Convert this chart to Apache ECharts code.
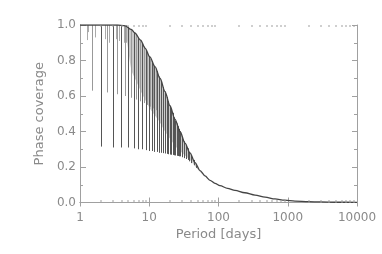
<!DOCTYPE html>
<html>
<head>
<meta charset="utf-8">
<script src="https://cdn.jsdelivr.net/npm/echarts@6/dist/echarts.min.js"></script>
<style>
  html, body { margin: 0; padding: 0; background: #fff; }
  #chart { width: 382px; height: 254px; }
</style>
</head>
<body>
<div id="chart"></div>
<script>
// upper envelope of the phase coverage curve
const envPeriods = [1, 3.5, 4.5, 5.5, 6.2, 7.5, 8.7, 10.2, 12.1, 14.3, 16.9, 19.9, 23.5, 27.8, 32.8, 38.7, 45.8, 54.1, 63.8, 75.4, 89, 105, 135, 173, 240, 337, 470, 655, 900, 1273, 2000, 2922, 5000, 10000]
const envValues = [1.0, 1.0, 0.995, 0.975, 0.955, 0.915, 0.87, 0.82, 0.765, 0.70, 0.625, 0.545, 0.47, 0.40, 0.335, 0.28, 0.225, 0.18, 0.15, 0.125, 0.108, 0.095, 0.08, 0.068, 0.055, 0.042, 0.03, 0.02, 0.013, 0.008, 0.005, 0.003, 0.0015, 0.001]

// lower edge of the grey dense band (same periods as the envelope)
const bandPeriods = [4.5, 5.5, 6.2, 7.5, 8.7, 10.2, 12.1, 14.3, 16.9, 19.9, 23.5, 27.8, 32.8, 38.7, 45.8, 54.1, 63.8]
const bandLows = [0.99, 0.75, 0.70, 0.63, 0.58, 0.53, 0.49, 0.45, 0.40, 0.36, 0.32, 0.29, 0.265, 0.24, 0.205, 0.172, 0.15]

// dips at integer periods
const dipPeriods = [2, 3, 4, 5, 6, 7, 8, 9, 10, 11, 12, 13, 14, 15, 16, 17, 18, 19, 20, 21, 22, 23, 24, 25, 26, 27, 28, 30, 32, 34, 36, 38, 41, 44, 48]
const dipTops = [1.0, 1.0, 1.0, 0.99, 0.96, 0.93, 0.895, 0.86, 0.825, 0.795, 0.77, 0.74, 0.71, 0.68, 0.65, 0.625, 0.595, 0.57, 0.545, 0.525, 0.505, 0.48, 0.46, 0.445, 0.43, 0.415, 0.40, 0.37, 0.345, 0.325, 0.305, 0.285, 0.265, 0.24, 0.21]
const dipLows = [0.315, 0.31, 0.31, 0.31, 0.305, 0.30, 0.30, 0.295, 0.29, 0.29, 0.285, 0.285, 0.28, 0.28, 0.278, 0.276, 0.274, 0.272, 0.27, 0.269, 0.268, 0.266, 0.265, 0.263, 0.262, 0.26, 0.26, 0.255, 0.25, 0.245, 0.24, 0.232, 0.222, 0.21, 0.195]

// dips at half-integer periods
const halfPeriods = [1.5, 2.5, 3.5, 4.5, 5.5, 6.5, 7.5, 8.5, 9.5, 10.5, 11.5, 12.5]
const halfTops = [1.0, 1.0, 1.0, 0.995, 0.975, 0.945, 0.915, 0.88, 0.84, 0.81, 0.78, 0.755]
const halfLows = [0.63, 0.62, 0.61, 0.60, 0.59, 0.58, 0.57, 0.56, 0.55, 0.54, 0.53, 0.52]

// small dips at third periods
const thirdPeriods = [1.26, 1.33, 1.67, 2.33, 2.67, 3.33, 3.67, 4.33, 4.67]
const thirdLows = [0.915, 0.96, 0.93, 0.92, 0.90, 0.92, 0.91, 0.90, 0.90]

const xMinorMults = [2, 3, 4, 5, 6, 7, 8, 9]
const xDecades = [1, 10, 100, 1000]

const font = 'DejaVu Sans'
const axisColor = '#a0a0a0'
const textColor = '#8a8a8a'

const minorTicks = []
xDecades.forEach((d) => xMinorMults.forEach((m) => minorTicks.push([m * d, 0.5])))

const envData = envPeriods.map((p, i) => [p, envValues[i]])
const bandTops = bandPeriods.map((p) => envValues[envPeriods.indexOf(p)])

const dipLines = (periods, tops, lows) =>
  periods.map((p, i) => ({ coords: [[p, tops ? tops[i] : 1.0], [p, lows[i]]] }))

const chart = echarts.init(document.getElementById('chart'), null, { renderer: 'canvas' })

chart.setOption({
  animation: false,
  grid: { left: 80, right: 25, top: 25, bottom: 51.5 },
  xAxis: [
    {
      type: 'log',
      logBase: 10,
      min: 1,
      max: 10000,
      position: 'bottom',
      name: 'Period [days]',
      nameLocation: 'middle',
      nameGap: 18,
      nameTextStyle: { color: textColor, fontFamily: font, fontSize: 13 },
      axisLine: { show: true, lineStyle: { color: axisColor, width: 1 } },
      axisTick: { show: true, inside: true, length: 5, lineStyle: { color: axisColor } },
      axisLabel: {
        color: textColor,
        fontFamily: font,
        fontSize: 12,
        margin: 9,
        formatter(v) {
          return String(Math.round(v))
        }
      },
      splitLine: { show: false }
    },
    {
      type: 'log',
      logBase: 10,
      min: 1,
      max: 10000,
      position: 'top',
      axisLine: { show: true, lineStyle: { color: axisColor, width: 1 } },
      axisTick: { show: true, inside: true, length: 4, lineStyle: { color: axisColor } },
      axisLabel: { show: false },
      splitLine: { show: false }
    }
  ],
  yAxis: [
    {
      type: 'value',
      min: 0,
      max: 1,
      interval: 0.2,
      position: 'left',
      name: 'Phase coverage',
      nameLocation: 'middle',
      nameGap: 33,
      nameTextStyle: { color: textColor, fontFamily: font, fontSize: 13 },
      axisLine: { show: true, lineStyle: { color: axisColor, width: 1 } },
      axisTick: { show: true, inside: true, length: 6, lineStyle: { color: axisColor } },
      minorTick: { show: true, splitNumber: 2, length: 3, lineStyle: { color: axisColor } },
      axisLabel: {
        color: textColor,
        fontFamily: font,
        fontSize: 12,
        margin: 4,
        formatter(v) {
          return v.toFixed(1)
        }
      },
      splitLine: { show: false }
    },
    {
      type: 'value',
      min: 0,
      max: 1,
      interval: 0.2,
      position: 'right',
      axisLine: { show: true, lineStyle: { color: axisColor, width: 1 } },
      axisTick: { show: true, inside: true, length: 5, lineStyle: { color: axisColor } },
      minorTick: { show: true, splitNumber: 2, length: 3, lineStyle: { color: axisColor } },
      axisLabel: { show: false },
      splitLine: { show: false }
    }
  ],
  series: [
    {
      // grey band between the envelope and the band's lower edge
      type: 'custom',
      data: [[bandPeriods[0], bandLows[0]]],
      silent: true,
      encode: { x: 0, y: 1 },
      renderItem(params, api) {
        const pts = []
        bandPeriods.forEach((p, i) => pts.push(api.coord([p, bandTops[i]])))
        for (let i = bandPeriods.length - 1; i >= 0; i--) {
          pts.push(api.coord([bandPeriods[i], bandLows[i]]))
        }
        return {
          type: 'polygon',
          shape: { points: pts, smooth: 0.3 },
          style: { fill: '#cacaca' }
        }
      },
      z: 2
    },
    {
      type: 'lines',
      coordinateSystem: 'cartesian2d',
      data: dipLines(thirdPeriods, null, thirdLows),
      lineStyle: { color: '#aaaaaa', width: 1, opacity: 1 },
      silent: true,
      z: 3
    },
    {
      type: 'lines',
      coordinateSystem: 'cartesian2d',
      data: dipLines(halfPeriods, halfTops, halfLows),
      lineStyle: { color: '#999999', width: 1, opacity: 1 },
      silent: true,
      z: 3
    },
    {
      type: 'lines',
      coordinateSystem: 'cartesian2d',
      data: dipLines(dipPeriods, dipTops, dipLows),
      lineStyle: { color: '#555555', width: 1, opacity: 1 },
      silent: true,
      z: 4
    },
    {
      type: 'line',
      data: envData,
      symbol: 'none',
      smooth: 0.3,
      smoothMonotone: 'x',
      silent: true,
      lineStyle: { color: '#444444', width: 1.3 },
      z: 5
    },
    {
      // log minor ticks (2..9 in each decade), bottom and top
      type: 'custom',
      data: minorTicks,
      silent: true,
      clip: false,
      encode: { x: 0, y: 1 },
      renderItem(params, api) {
        const x = Math.round(api.coord([api.value(0), 0.5])[0]) - 0.5
        const top = Math.round(params.coordSys.y)
        const bottom = Math.round(params.coordSys.y + params.coordSys.height)
        return {
          type: 'group',
          children: [
            {
              type: 'rect',
              shape: { x: x, y: bottom - 3, width: 1, height: 3 },
              style: { fill: axisColor }
            },
            {
              type: 'rect',
              shape: { x: x, y: top, width: 1, height: 2 },
              style: { fill: axisColor }
            }
          ]
        }
      },
      z: 6
    }
  ]
})
</script>
</body>
</html>
